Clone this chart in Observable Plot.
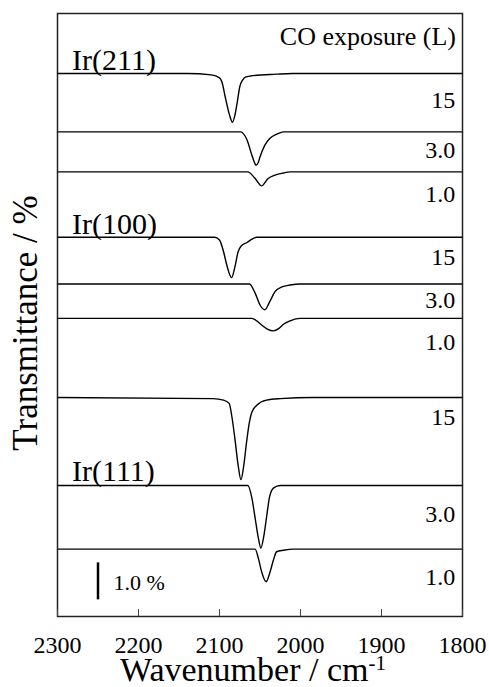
<!DOCTYPE html>
<html>
<head>
<meta charset="utf-8">
<script src="https://cdn.jsdelivr.net/npm/d3@7"></script>
<script src="https://cdn.jsdelivr.net/npm/@observablehq/plot@0.6"></script>
<style>
  html, body { margin: 0; padding: 0; background: #fff; }
  #chart svg { display: block; font-family: "Liberation Serif", serif !important; }
  #chart svg text { font-family: "Liberation Serif", serif; }
</style>
</head>
<body>
<div id="chart"></div>
<script>
// ---- data ----
const xTicks = [2300, 2200, 2100, 2000, 1900, 1800];
const surfaces = ["Ir(211)", "Ir(100)", "Ir(111)"];
const exposures = ["15", "3.0", "1.0"];

// baseline level of each spectrum (% transmittance, stacked offset)
const offsets211 = [14.68, 13.10, 12.02];
const offsets100 = [10.25, 8.99, 8.06];
const offsets111 = [5.92, 3.54, 1.82];

// spectra: [wavenumber, change in transmittance (%)]
const s211_15 = [[2300,0],[2140,0],[2110,-0.04],[2100,-0.12],[2097,-0.23],[2093,-0.63],[2090,-0.92],[2087,-1.17],[2084,-1.32],[2081,-1.13],[2078,-0.77],[2075,-0.36],[2071.5,-0.18],[2068,-0.10],[2062,-0.07],[2030,-0.02],[2010,0],[1800,0]];
const s211_3 = [[2300,0],[2074,0],[2066,-0.22],[2060,-0.63],[2057,-0.82],[2055,-0.90],[2052,-0.82],[2050,-0.68],[2044,-0.36],[2038,-0.18],[2029,-0.06],[2021,0],[1800,0]];
const s211_1 = [[2300,0],[2065,0],[2056,-0.18],[2048,-0.38],[2040,-0.18],[2031.5,-0.09],[2021,-0.03],[2013,0],[1800,0]];
const s100_15 = [[2300,0],[2106,0],[2100,-0.07],[2095,-0.39],[2091,-0.75],[2085,-1.09],[2081,-0.80],[2077,-0.39],[2073,-0.23],[2066,-0.14],[2060,-0.05],[2054,0],[1800,0]];
const s100_3 = [[2300,0],[2063,0],[2056,-0.25],[2050,-0.57],[2044,-0.70],[2038,-0.48],[2031.5,-0.21],[2023,-0.08],[2013,-0.03],[2000,0],[1800,0]];
const s100_1 = [[2300,0],[2060,0],[2054,-0.07],[2048,-0.18],[2041,-0.29],[2033.5,-0.34],[2026.5,-0.27],[2021,-0.16],[2013,-0.07],[2007,-0.02],[2000,0],[1800,0]];
const s111_15 = [[2300,0],[2108,-0.03],[2095,-0.07],[2088,-0.16],[2085,-0.48],[2081,-1.11],[2077,-1.83],[2073.5,-2.22],[2070,-1.83],[2066.5,-1.19],[2063,-0.66],[2060,-0.39],[2054,-0.21],[2042,-0.07],[2025,-0.03],[1985,0],[1800,0]];
const s111_3 = [[2300,0],[2065,0],[2060,-0.34],[2056,-0.88],[2052,-1.42],[2049,-1.69],[2045,-1.33],[2041.5,-0.79],[2038.5,-0.34],[2033.5,-0.07],[2025,0],[1800,0]];
const s111_1 = [[2300,0],[2056,0],[2052,-0.25],[2048,-0.61],[2042.5,-0.88],[2037.5,-0.61],[2033.5,-0.30],[2029.5,-0.07],[2021,-0.03],[2009,0],[1800,0]];

// label anchor levels (% units) and scale bar
const surfaceLabelY = [14.78, 10.35, 3.66];
const exposureLabelY211 = [13.74, 12.39, 11.20];
const exposureLabelY100 = [9.50, 8.34, 7.20];
const exposureLabelY111 = [5.18, 2.55, 0.85];
const headerLabel = "CO exposure (L)";
const headerY = 15.45;
const scaleBarX = 2250;
const scaleBarY = [0.45, 1.45];
const scaleBarLabel = "1.0 %";
const scaleBarLabelY = 0.72;

// ---- build tables ----
const groups = [
  {surface: "Ir(211)", offsets: offsets211, spectra: [s211_15, s211_3, s211_1], labelY: exposureLabelY211},
  {surface: "Ir(100)", offsets: offsets100, spectra: [s100_15, s100_3, s100_1], labelY: exposureLabelY100},
  {surface: "Ir(111)", offsets: offsets111, spectra: [s111_15, s111_3, s111_1], labelY: exposureLabelY111}
];
const lineRows = [];
const expLabelRows = [];
groups.forEach(g => {
  g.spectra.forEach((s, i) => {
    const key = g.surface + " " + exposures[i];
    s.forEach(([wn, d]) => lineRows.push({key, wn, t: g.offsets[i] + d}));
    expLabelRows.push({text: exposures[i], y: g.labelY[i]});
  });
});
const surfRows = surfaces.map((s, i) => ({text: s, y: surfaceLabelY[i]}));

const font = "Liberation Serif";

const chart = Plot.plot({
  width: 489,
  height: 687,
  marginLeft: 57,
  marginRight: 27,
  marginTop: 13,
  marginBottom: 71,
  style: {fontFamily: font, background: "#fff", color: "#000"},
  x: {domain: [2300, 1800], label: null},
  y: {domain: [0, 16.3], axis: null},
  marks: [
    Plot.line(lineRows, {x: "wn", y: "t", z: "key", curve: "monotone-x", stroke: "#000", strokeWidth: 1.4}),
    Plot.frame({stroke: "#222", strokeWidth: 1.5}),
    Plot.axisX(xTicks, {tickSize: -7, tickPadding: 26, tickFormat: d => String(d), fontSize: 24, fontFamily: font, label: null, stroke: "#444"}),
    Plot.text(surfRows, {x: () => 2282, y: "y", text: "text", textAnchor: "start", lineAnchor: "bottom", fontSize: 30, fontFamily: font}),
    Plot.text(expLabelRows, {x: () => 1809, y: "y", text: "text", textAnchor: "end", lineAnchor: "bottom", fontSize: 24, fontFamily: font}),
    Plot.text([headerLabel], {x: () => 1808, y: () => headerY, text: d => d, textAnchor: "end", lineAnchor: "bottom", fontSize: 26, fontFamily: font}),
    Plot.ruleX([scaleBarX], {y1: scaleBarY[0], y2: scaleBarY[1], strokeWidth: 2.5, stroke: "#000"}),
    Plot.text([scaleBarLabel], {x: () => 2231, y: () => scaleBarLabelY, text: d => d, textAnchor: "start", lineAnchor: "bottom", fontSize: 22, fontFamily: font}),
    Plot.text(["Transmittance / %"], {frameAnchor: "left", rotate: -90, dx: -21, dy: 8, textAnchor: "middle", lineAnchor: "bottom", fontSize: 35, fontFamily: font}),
    Plot.text(["Wavenumber / cm"], {frameAnchor: "bottom", dx: -7, dy: 64, textAnchor: "middle", lineAnchor: "bottom", fontSize: 34, fontFamily: font})
  ]
});

// superscript on the x label
d3.select(chart).selectAll("text").filter(function() { return this.textContent === "Wavenumber / cm"; })
  .append("tspan").attr("dy", "-0.5em").attr("font-size", 21).text("-1");

document.getElementById("chart").appendChild(chart);
</script>
</body>
</html>
